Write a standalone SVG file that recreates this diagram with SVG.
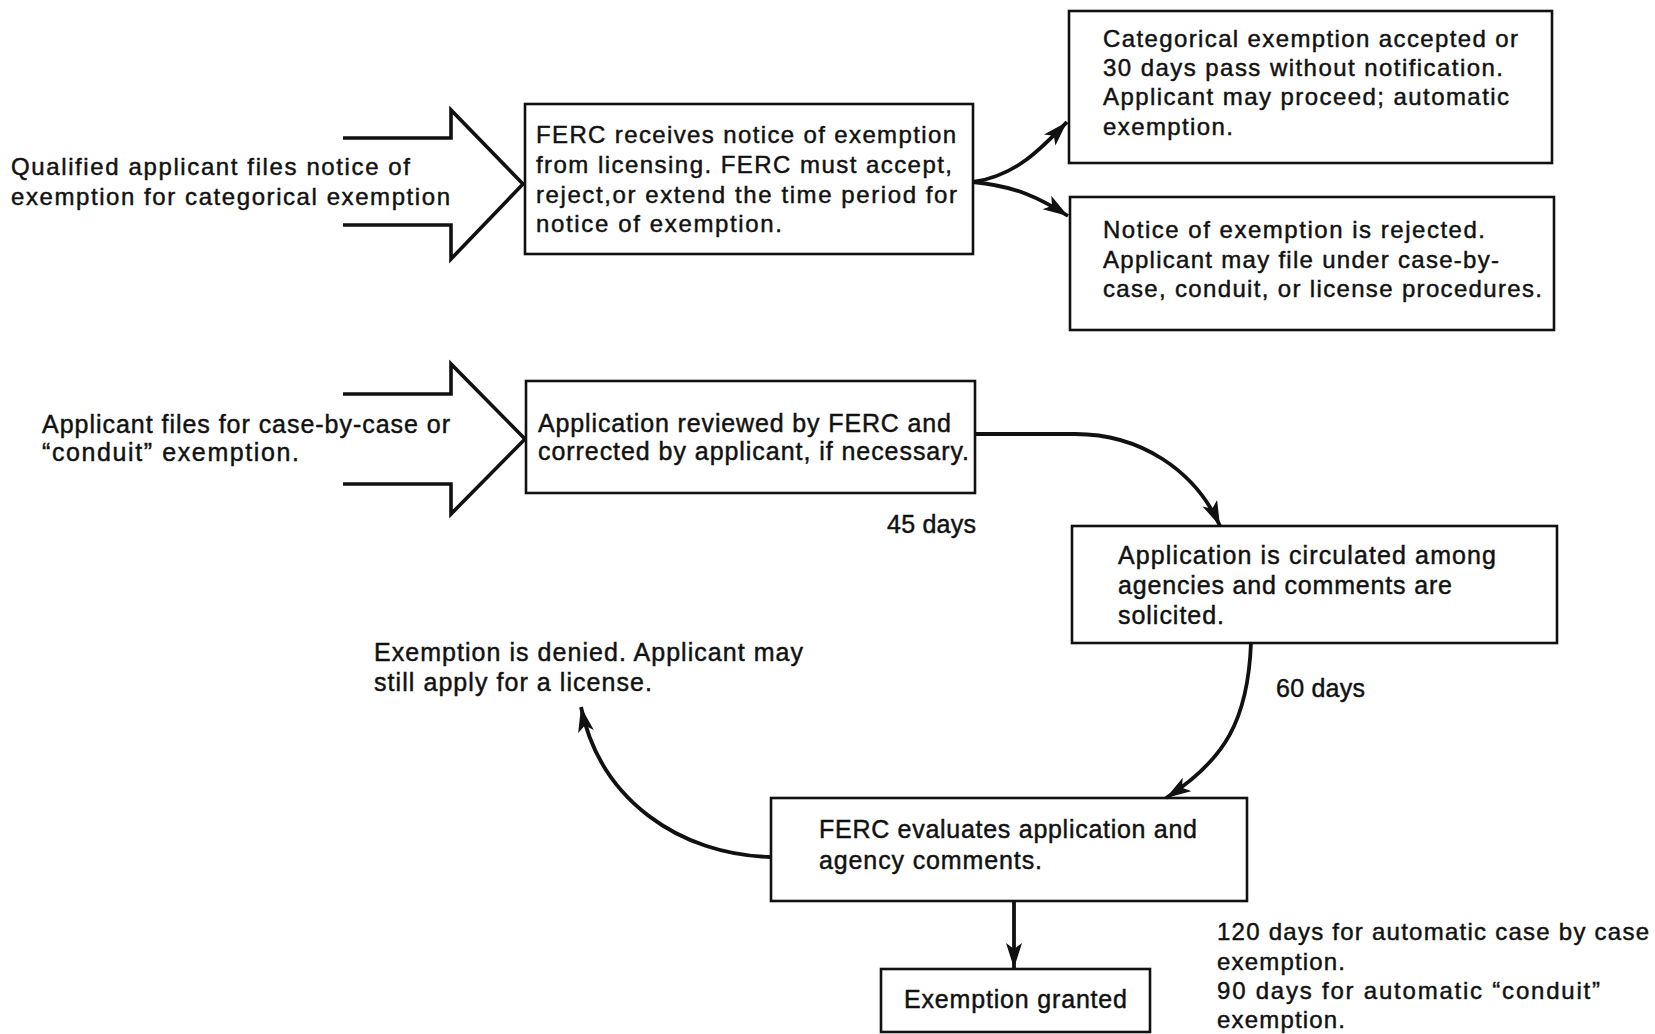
<svg xmlns="http://www.w3.org/2000/svg" width="1655" height="1034" viewBox="0 0 1655 1034">
<style>
.bg{fill:#fff}
.box{fill:#fff;stroke:#111;stroke-width:2.6}
.big{fill:none;stroke:#111;stroke-width:3.6;stroke-linejoin:miter}
.con{fill:none;stroke:#111;stroke-width:3.8}
text{font-family:"Liberation Sans",Arial,Helvetica,sans-serif;fill:#111;stroke:#111;stroke-width:0.45}
.r{font-size:24px}
.c{font-size:25px}
</style>
<defs>
<marker id="ah" markerUnits="userSpaceOnUse" markerWidth="28" markerHeight="18" refX="25" refY="8" orient="auto">
<path d="M0,0 L25,8 L0,16 L6,8 z" fill="#111"/>
</marker>
</defs>
<rect class="bg" x="0" y="0" width="1655" height="1034"/>

<g id="arrow-categorical">
<path class="big" d="M343,138 L451,138 L451,110 L523,184 L451,259 L451,225 L343,225"/>
<text class="r" x="11" y="175" textLength="399">Qualified applicant files notice of</text>
<text class="r" x="11" y="205" textLength="439">exemption for categorical exemption</text>
</g>

<g id="node-ferc-receives">
<rect class="box" x="525" y="104" width="448" height="150"/>
<text class="r" x="536" y="143" textLength="420">FERC receives notice of exemption</text>
<text class="r" x="536" y="173" textLength="416">from licensing. FERC must accept,</text>
<text class="r" x="536" y="203" textLength="421">reject,or extend the time period for</text>
<text class="r" x="536" y="232" textLength="246">notice of exemption.</text>
</g>

<g id="node-accepted">
<rect class="box" x="1069" y="11" width="483" height="152"/>
<text class="r" x="1103" y="47" textLength="415">Categorical exemption accepted or</text>
<text class="r" x="1103" y="76" textLength="400">30 days pass without notification.</text>
<text class="r" x="1103" y="105" textLength="406">Applicant may proceed; automatic</text>
<text class="r" x="1103" y="135" textLength="130">exemption.</text>
</g>

<g id="node-rejected">
<rect class="box" x="1070" y="197" width="484" height="133"/>
<text class="r" x="1103" y="238" textLength="382">Notice of exemption is rejected.</text>
<text class="r" x="1103" y="268" textLength="396">Applicant may file under case-by-</text>
<text class="r" x="1103" y="297" textLength="439">case, conduit, or license procedures.</text>
</g>

<g id="arrow-case-by-case">
<path class="big" d="M343,394 L451,394 L451,364 L525,439 L451,514 L451,484 L343,484"/>
<text class="c" x="42" y="433" textLength="408">Applicant files for case-by-case or</text>
<text class="c" x="42" y="461" textLength="257">“conduit” exemption.</text>
</g>

<g id="node-reviewed">
<rect class="box" x="526" y="381" width="449" height="112"/>
<text class="c" x="538" y="432" textLength="413">Application reviewed by FERC and</text>
<text class="c" x="538" y="460" textLength="431">corrected by applicant, if necessary.</text>
</g>

<g id="node-circulated">
<rect class="box" x="1072" y="526" width="485" height="117"/>
<text class="c" x="1118" y="564" textLength="378">Application is circulated among</text>
<text class="c" x="1118" y="594" textLength="334">agencies and comments are</text>
<text class="c" x="1118" y="624" textLength="106">solicited.</text>
</g>

<g id="node-denied">
<text class="c" x="374" y="661" textLength="429">Exemption is denied. Applicant may</text>
<text class="c" x="374" y="691" textLength="278">still apply for a license.</text>
</g>

<g id="node-evaluates">
<rect class="box" x="771" y="798" width="476" height="103"/>
<text class="c" x="819" y="838" textLength="378">FERC evaluates application and</text>
<text class="c" x="819" y="869" textLength="223">agency comments.</text>
</g>

<g id="node-granted">
<rect class="box" x="881" y="969" width="269" height="63"/>
<text class="c" x="904" y="1008" textLength="223">Exemption granted</text>
</g>

<g id="labels">
<text class="c" x="887" y="533" textLength="89">45 days</text>
<text class="c" x="1276" y="697" textLength="89">60 days</text>
<text class="r" x="1217" y="940" textLength="432">120 days for automatic case by case</text>
<text class="r" x="1217" y="970" textLength="128">exemption.</text>
<text class="r" x="1217" y="999" textLength="383">90 days for automatic “conduit”</text>
<text class="r" x="1217" y="1028" textLength="128">exemption.</text>
</g>

<g id="connectors">
<path class="con" marker-end="url(#ah)" d="M973,182 C1015,176 1040,150 1067,122"/>
<path class="con" marker-end="url(#ah)" d="M973,182 C1015,186 1040,198 1068,216"/>
<path class="con" marker-end="url(#ah)" d="M975,434 L1075,434 C1140,434 1195,470 1220,526"/>
<path class="con" marker-end="url(#ah)" d="M1251,643 C1248,720 1225,760 1166,798"/>
<path class="con" marker-end="url(#ah)" d="M771,857 C680,855 600,800 581,707"/>
<path class="con" marker-end="url(#ah)" d="M1014,901 L1014,968"/>
</g>
</svg>
